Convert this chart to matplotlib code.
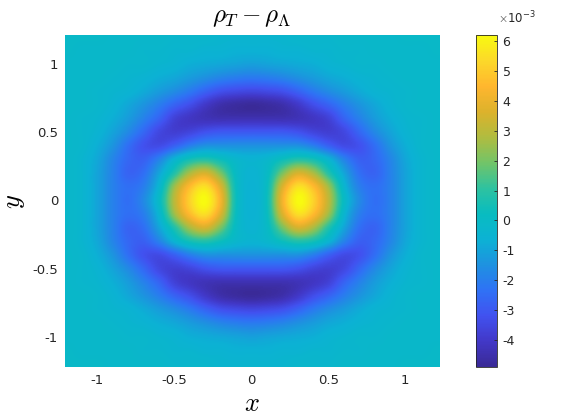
import matplotlib
matplotlib.use("Agg")
import matplotlib.pyplot as plt
from matplotlib.colors import LinearSegmentedColormap

plt.rcParams["mathtext.fontset"] = "cm"

# field at 0.1 steps, x from -1.2 to 1.2, y from 1.2 down to -1.2, units of 1e-3
x_first, x_last = -1.2, 1.2
y_first, y_last = 1.2, -1.2
field = [
    [-.1,-.1,-.1,-.2,-.2,-.2,-.2,-.3,-.3,-.3,-.4,-.4,-.4,-.4,-.4,-.3,-.3,-.3,-.2,-.2,-.2,-.2,-.1,-.1,-.1],
    [-.1,-.2,-.2,-.2,-.2,-.3,-.3,-.4,-.4,-.5,-.5,-.6,-.6,-.6,-.5,-.5,-.4,-.4,-.3,-.3,-.2,-.2,-.2,-.2,-.1],
    [-.2,-.2,-.2,-.2,-.3,-.3,-.4,-.5,-.7,-.8,-.9,-1.0,-1.1,-1.0,-.9,-.8,-.7,-.5,-.4,-.3,-.3,-.2,-.2,-.2,-.2],
    [-.2,-.2,-.2,-.3,-.4,-.5,-.7,-.9,-1.2,-1.5,-1.8,-2.0,-2.1,-2.0,-1.8,-1.5,-1.2,-.9,-.7,-.5,-.4,-.3,-.2,-.2,-.2],
    [-.2,-.2,-.3,-.4,-.5,-.8,-1.2,-1.6,-2.1,-2.7,-3.2,-3.4,-3.5,-3.4,-3.2,-2.7,-2.1,-1.6,-1.2,-.8,-.5,-.4,-.3,-.2,-.2],
    [-.2,-.2,-.3,-.5,-.9,-1.4,-2.0,-2.7,-3.3,-4.0,-4.5,-4.7,-4.8,-4.7,-4.5,-4.0,-3.3,-2.7,-2.0,-1.4,-.9,-.5,-.3,-.2,-.2],
    [-.2,-.3,-.4,-.7,-1.2,-1.9,-2.7,-3.7,-4.1,-4.3,-4.4,-4.4,-4.4,-4.4,-4.4,-4.3,-4.1,-3.7,-2.7,-1.9,-1.2,-.7,-.4,-.3,-.2],
    [-.2,-.3,-.5,-1.0,-1.7,-2.6,-3.5,-3.8,-3.6,-3.2,-3.0,-3.0,-3.0,-3.0,-3.0,-3.2,-3.6,-3.8,-3.5,-2.6,-1.7,-1.0,-.5,-.3,-.2],
    [-.2,-.3,-.7,-1.4,-2.4,-3.2,-3.4,-2.8,-2.0,-1.5,-1.5,-1.5,-1.5,-1.5,-1.5,-1.5,-2.0,-2.8,-3.4,-3.2,-2.4,-1.4,-.7,-.3,-.2],
    [-.2,-.4,-.9,-1.8,-2.6,-2.8,-1.9,-.5,.5,.8,.3,-.3,-.5,-.3,.3,.8,.5,-.5,-1.9,-2.8,-2.6,-1.8,-.9,-.4,-.2],
    [-.2,-.4,-1.0,-1.9,-2.7,-2.4,-1.0,.8,2.7,3.5,2.0,.0,-.5,.0,2.0,3.5,2.7,.8,-1.0,-2.4,-2.7,-1.9,-1.0,-.4,-.2],
    [-.2,-.4,-1.0,-1.9,-2.4,-2.0,-.4,2.5,4.6,5.5,3.6,.2,-.55,.2,3.6,5.5,4.6,2.5,-.4,-2.0,-2.4,-1.9,-1.0,-.4,-.2],
    [-.2,-.4,-1.0,-1.9,-2.4,-1.7,0,3.0,5.2,6.2,4.2,.3,-.6,.3,4.2,6.2,5.2,3.0,0,-1.7,-2.4,-1.9,-1.0,-.4,-.2],
    [-.2,-.4,-1.0,-1.9,-2.4,-2.0,-.4,2.5,4.6,5.5,3.6,.2,-.55,.2,3.6,5.5,4.6,2.5,-.4,-2.0,-2.4,-1.9,-1.0,-.4,-.2],
    [-.2,-.4,-1.0,-1.9,-2.7,-2.4,-1.0,.8,2.7,3.5,2.0,.0,-.5,.0,2.0,3.5,2.7,.8,-1.0,-2.4,-2.7,-1.9,-1.0,-.4,-.2],
    [-.2,-.4,-.9,-1.8,-2.6,-2.8,-1.9,-.5,.5,.8,.3,-.3,-.5,-.3,.3,.8,.5,-.5,-1.9,-2.8,-2.6,-1.8,-.9,-.4,-.2],
    [-.2,-.3,-.7,-1.4,-2.4,-3.2,-3.4,-2.8,-2.0,-1.5,-1.5,-1.5,-1.5,-1.5,-1.5,-1.5,-2.0,-2.8,-3.4,-3.2,-2.4,-1.4,-.7,-.3,-.2],
    [-.2,-.3,-.5,-1.0,-1.7,-2.6,-3.5,-3.8,-3.6,-3.2,-3.0,-3.0,-3.0,-3.0,-3.0,-3.2,-3.6,-3.8,-3.5,-2.6,-1.7,-1.0,-.5,-.3,-.2],
    [-.2,-.3,-.4,-.7,-1.2,-1.9,-2.7,-3.7,-4.1,-4.3,-4.4,-4.4,-4.4,-4.4,-4.4,-4.3,-4.1,-3.7,-2.7,-1.9,-1.2,-.7,-.4,-.3,-.2],
    [-.2,-.2,-.3,-.5,-.9,-1.4,-2.0,-2.7,-3.3,-4.0,-4.5,-4.7,-4.8,-4.7,-4.5,-4.0,-3.3,-2.7,-2.0,-1.4,-.9,-.5,-.3,-.2,-.2],
    [-.2,-.2,-.3,-.4,-.5,-.8,-1.2,-1.6,-2.1,-2.7,-3.2,-3.4,-3.5,-3.4,-3.2,-2.7,-2.1,-1.6,-1.2,-.8,-.5,-.4,-.3,-.2,-.2],
    [-.2,-.2,-.2,-.3,-.4,-.5,-.7,-.9,-1.2,-1.5,-1.8,-2.0,-2.1,-2.0,-1.8,-1.5,-1.2,-.9,-.7,-.5,-.4,-.3,-.2,-.2,-.2],
    [-.2,-.2,-.2,-.2,-.3,-.3,-.4,-.5,-.7,-.8,-.9,-1.0,-1.1,-1.0,-.9,-.8,-.7,-.5,-.4,-.3,-.3,-.2,-.2,-.2,-.2],
    [-.1,-.2,-.2,-.2,-.2,-.3,-.3,-.4,-.4,-.5,-.5,-.6,-.6,-.6,-.5,-.5,-.4,-.4,-.3,-.3,-.2,-.2,-.2,-.2,-.1],
    [-.1,-.1,-.1,-.2,-.2,-.2,-.2,-.3,-.3,-.3,-.4,-.4,-.4,-.4,-.4,-.3,-.3,-.3,-.2,-.2,-.2,-.2,-.1,-.1,-.1],
]
x_ticks = [-1, -0.5, 0, 0.5, 1]
x_labels = ["-1", "-0.5", "0", "0.5", "1"]
y_ticks = [-1, -0.5, 0, 0.5, 1]
y_labels = ["-1", "-0.5", "0", "0.5", "1"]
cbar_ticks = [-4, -3, -2, -1, 0, 1, 2, 3, 4, 5, 6]
cbar_labels = ["-4", "-3", "-2", "-1", "0", "1", "2", "3", "4", "5", "6"]
vmin, vmax = -4.9, 6.2

cmap = LinearSegmentedColormap.from_list("parula_like", [
    "#3a2a96", "#4238c8", "#4152f0", "#2f72f5", "#1e92e0",
    "#0cb2d4", "#08bcc0", "#2ec2a0", "#72c468", "#b0bc40",
    "#dcb22c", "#ffb62e", "#fcd82a", "#f8fa10",
])

W, H = 570, 420
fig = plt.figure(figsize=(W / 100, H / 100), dpi=100, facecolor="white")
ax = fig.add_axes([65 / W, 1 - 367 / H, 374 / W, 332 / H])

half = 0.05
im = ax.imshow(field, cmap=cmap, vmin=vmin, vmax=vmax, interpolation="catrom", aspect="auto",
               extent=[x_first - half, x_last + half, y_last - half, y_first + half])
ax.set_xlim(-1.21, 1.22)
ax.set_ylim(-1.22, 1.21)
ax.set_xticks(x_ticks, x_labels)
ax.set_yticks(y_ticks, y_labels)
ax.tick_params(length=0, labelsize=9.5, labelcolor="#262626", pad=5)
for s in ax.spines.values():
    s.set_visible(False)
ax.set_xlabel("$x$", fontsize=19, labelpad=3)
ax.set_ylabel("$y$", fontsize=19, labelpad=4)
ax.set_title(r"$\rho_T - \rho_\Lambda$", fontsize=18, pad=9)

cax = fig.add_axes([476 / W, 1 - 367 / H, 21 / W, 332 / H])
cb = fig.colorbar(im, cax=cax)
cb.set_ticks(cbar_ticks, labels=cbar_labels)
cb.ax.tick_params(direction="in", length=2.5, width=0.6, color="#262626", labelsize=9, labelcolor="#262626", pad=4)
cb.outline.set_edgecolor("#262626")
cb.outline.set_linewidth(0.6)
fig.text(498 / W, 1 - 23 / H, r"$\times\mathregular{10^{-3}}$", fontsize=8.5, color="#262626", ha="left", va="baseline")

fig.savefig("out.png", dpi=100)
